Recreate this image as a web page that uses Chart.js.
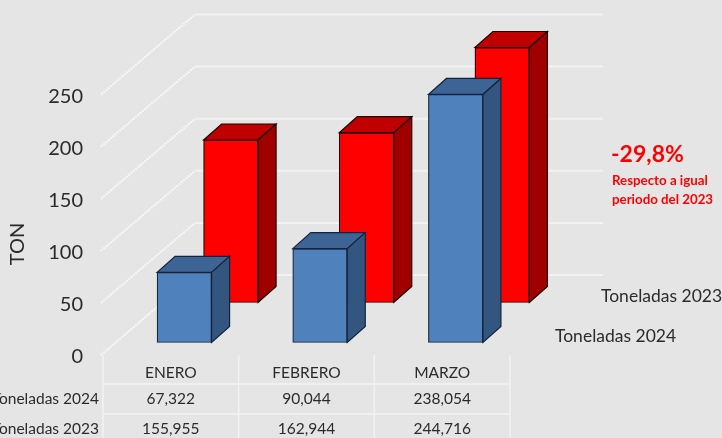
<!DOCTYPE html>
<html>
<head>
<meta charset="utf-8">
<script src="https://cdn.jsdelivr.net/npm/chart.js@4"></script>
<style>
  html, body { margin: 0; padding: 0; background: #e5e5e5; overflow: hidden; }
  canvas { display: block; filter: blur(0.4px); }
</style>
</head>
<body>
<canvas id="chart" width="722" height="438"></canvas>
<script>
const categories = ["ENERO", "FEBRERO", "MARZO"];
const toneladas2024 = [67.322, 90.044, 238.054];
const toneladas2023 = [155.955, 162.944, 244.716];
const seriesNames = ["Toneladas 2024", "Toneladas 2023"];
const yMax = 250;
const yStep = 50;
const yTitle = "TON";
const noteTitle = "-29,8%";
const noteLines = ["Respecto a igual", "periodo del 2023"];

const FONT = "Lato, Carlito, sans-serif";
const TEXT = "#2b2b2b";
const GRID = "#f2f2f2";

// desplazamiento de cada serie dentro de la "profundidad" del grafico
const shift = [{ x: 13.5, y: -12.5 }, { x: 60, y: -52.5 }];
const depth = { x: 18, y: -16 };
const faces = [
  { top: "#3d6494", side: "#325680", line: "#14233a" },
  { top: "#c00000", side: "#a00000", line: "#1a0505" },
];

function poly(ctx, pts, fill, line) {
  ctx.beginPath();
  pts.forEach((p, i) => (i ? ctx.lineTo(p[0], p[1]) : ctx.moveTo(p[0], p[1])));
  ctx.closePath();
  ctx.fillStyle = fill;
  ctx.fill();
  ctx.lineWidth = 1.2;
  ctx.strokeStyle = line;
  ctx.stroke();
}

const boxes = {
  id: "boxes",
  beforeDatasetDraw(chart, args) {
    const s = shift[args.index];
    chart.ctx.save();
    chart.ctx.translate(s.x, s.y);
  },
  afterDatasetDraw(chart, args) {
    const ctx = chart.ctx;
    const f = faces[args.index];
    args.meta.data.forEach((bar) => {
      const l = bar.x - bar.width / 2;
      const r = bar.x + bar.width / 2;
      poly(ctx, [[l, bar.y], [l + depth.x, bar.y + depth.y], [r + depth.x, bar.y + depth.y], [r, bar.y]], f.top, f.line);
      poly(ctx, [[r, bar.y], [r + depth.x, bar.y + depth.y], [r + depth.x, bar.base + depth.y], [r, bar.base]], f.side, f.line);
    });
    ctx.restore();
  },
};

// paredes: lineas diagonales y lineas del fondo
const walls = {
  id: "walls",
  beforeDatasetsDraw(chart) {
    const ctx = chart.ctx;
    const y = chart.scales.y;
    ctx.save();
    y.ticks.forEach((t) => {
      const py = y.getPixelForValue(t.value);
      ctx.strokeStyle = "#f8f8f8";
      ctx.lineWidth = 2;
      ctx.setLineDash([2, 1]);
      ctx.beginPath();
      ctx.moveTo(chart.chartArea.left - 2, py);
      ctx.lineTo(195, py - 80);
      ctx.stroke();
      ctx.setLineDash([]);
      ctx.strokeStyle = GRID;
      ctx.beginPath();
      ctx.moveTo(195, py - 80);
      ctx.lineTo(603, py - 80);
      ctx.stroke();
    });
    ctx.restore();
  },
};

// las cifras de Lato quedan altas, se bajan 2px para centrarlas en la linea
const tickNudge = {
  id: "tickNudge",
  afterLayout(chart) {
    chart.scales.y.getLabelItems().forEach((item) => {
      item.options.translation[1] += 2;
    });
  },
};

// tabla de datos, nombres de series y nota en rojo
const extras = {
  id: "extras",
  afterDraw(chart) {
    const ctx = chart.ctx;
    const x = chart.scales.x;
    const area = chart.chartArea;
    const half = (x.getPixelForValue(1) - x.getPixelForValue(0)) / 2;
    ctx.save();
    ctx.strokeStyle = GRID;
    ctx.lineWidth = 1.5;
    for (let i = 0; i <= categories.length; i++) {
      const px = x.getPixelForValue(0) - half + i * 2 * half;
      ctx.beginPath();
      ctx.moveTo(px, area.bottom);
      ctx.lineTo(px, 438);
      ctx.stroke();
    }
    [384, 414].forEach((py) => {
      ctx.beginPath();
      ctx.moveTo(area.left, py);
      ctx.lineTo(area.right, py);
      ctx.stroke();
    });

    ctx.textBaseline = "middle";
    ctx.fillStyle = TEXT;
    ctx.font = "15.5px " + FONT;
    [[toneladas2024, 398.5, seriesNames[0]], [toneladas2023, 428.5, seriesNames[1]]].forEach((row) => {
      ctx.textAlign = "right";
      ctx.fillText(row[2], 99, row[1]);
      ctx.textAlign = "center";
      row[0].forEach((v, i) => {
        ctx.fillText(v.toFixed(3).replace(".", ","), x.getPixelForValue(i), row[1]);
      });
    });

    ctx.textAlign = "left";
    ctx.font = "17.5px " + FONT;
    ctx.fillText(seriesNames[1], 601, 296);
    ctx.fillText(seriesNames[0], 555, 336);

    ctx.save();
    ctx.translate(18, 244);
    ctx.rotate(-Math.PI / 2);
    ctx.textAlign = "center";
    ctx.font = "20px " + FONT;
    ctx.fillText(yTitle, 0, 0);
    ctx.restore();

    ctx.fillStyle = "#ff0000";
    ctx.font = "bold 23px " + FONT;
    ctx.fillText(noteTitle, 611, 155);
    ctx.font = "bold 13.3px " + FONT;
    ctx.fillText(noteLines[0], 612, 181);
    ctx.fillText(noteLines[1], 612, 200);
    ctx.restore();
  },
};

new Chart(document.getElementById("chart").getContext("2d"), {
  type: "bar",
  data: {
    labels: categories,
    datasets: [
      {
        label: seriesNames[0],
        data: toneladas2024,
        backgroundColor: "#4f81bd",
        borderColor: faces[0].line,
        order: 1,
      },
      {
        label: seriesNames[1],
        data: toneladas2023,
        backgroundColor: "#ff0000",
        borderColor: faces[1].line,
        order: 2,
      },
    ],
  },
  plugins: [walls, boxes, tickNudge, extras],
  options: {
    responsive: false,
    animation: false,
    devicePixelRatio: 1,
    layout: { padding: { left: 0, right: 212, top: 94.5, bottom: 0 } },
    datasets: { bar: { grouped: false, barThickness: 54.5, clip: false, borderWidth: 1.2, borderSkipped: false } },
    plugins: { legend: { display: false }, tooltip: { enabled: false } },
    scales: {
      x: {
        grid: { display: false, drawTicks: false },
        border: { display: false },
        ticks: { color: TEXT, font: { family: FONT, size: 15.5 }, padding: 9 },
        afterFit(s) { s.height = 83; },
      },
      y: {
        min: 0,
        max: yMax,
        grid: { display: false, drawTicks: false },
        border: { display: false },
        ticks: { stepSize: yStep, color: TEXT, font: { family: FONT, size: 20 }, padding: 20 },
        afterFit(s) { s.width = 103; },
      },
    },
  },
});
</script>
</body>
</html>
